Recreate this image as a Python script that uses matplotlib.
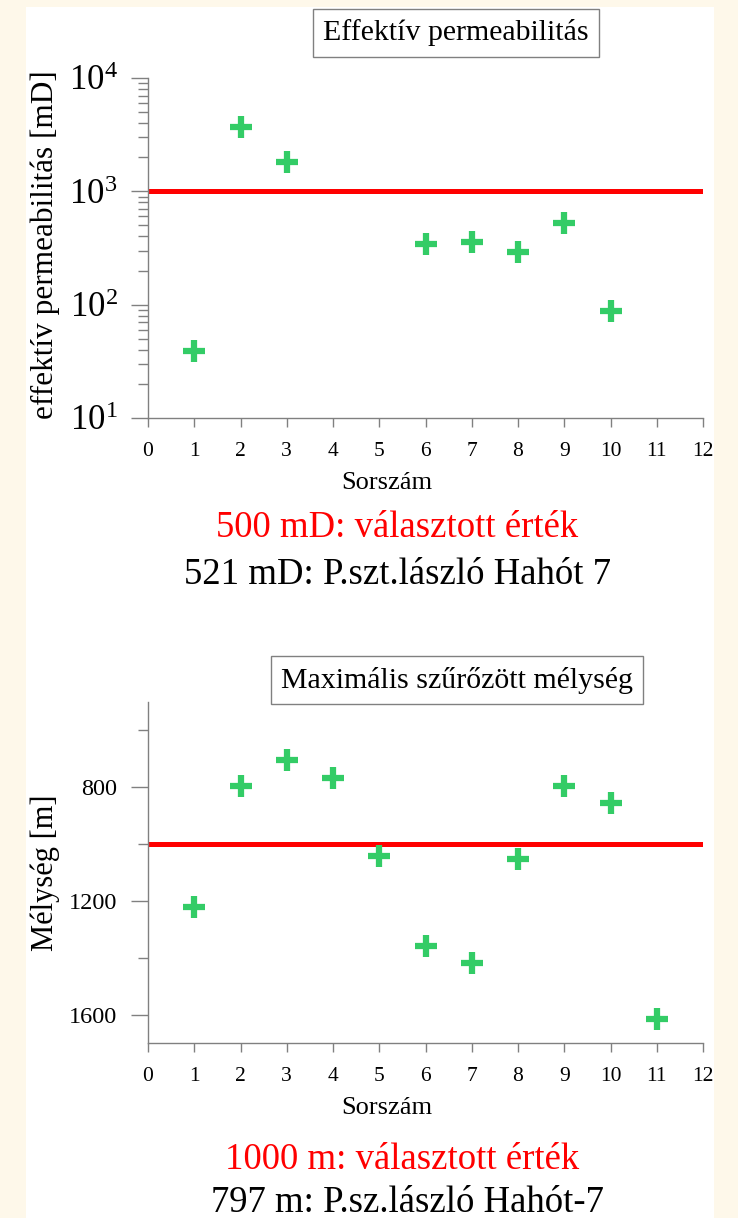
import matplotlib
matplotlib.use('Agg')
import matplotlib.pyplot as plt
from matplotlib.patches import Rectangle
from matplotlib.ticker import LogLocator, FixedLocator, NullFormatter

plt.rcParams['font.family'] = ['Liberation Serif', 'DejaVu Serif']
plt.rcParams['mathtext.fontset'] = 'custom'
plt.rcParams['mathtext.rm'] = 'Liberation Serif'

# data
perm_x = [1, 2, 3, 6, 7, 8, 9, 10]
perm_y = [39, 3724, 1806, 341, 355, 294, 521, 88]
perm_chosen = 1000

depth_x = [1, 2, 3, 4, 5, 6, 7, 8, 9, 10, 11]
depth_y = [1223, 797, 703, 766, 1042, 1358, 1419, 1054, 797, 854, 1614]
depth_chosen = 1000

x_ticks = list(range(0, 13))

GREEN = '#33cc66'
GRAY = '#808080'

fig = plt.figure(figsize=(7.38, 12.18), dpi=100)
fig.patch.set_facecolor('#fef8ea')
W, H = 738.0, 1218.0
fig.patches.append(Rectangle((26 / W, 0), (714 - 26) / W, (1218 - 7) / H,
                             transform=fig.transFigure, facecolor='white',
                             edgecolor='none', zorder=-10))


def style_axes(ax):
    for s in ['top', 'right']:
        ax.spines[s].set_visible(False)
    for s in ['left', 'bottom']:
        ax.spines[s].set_color(GRAY)
        ax.spines[s].set_linewidth(1.0)
    ax.set_facecolor('none')
    ax.set_xlim(0, 12)
    ax.set_xticks(x_ticks)
    ax.tick_params(axis='x', colors=GRAY, labelcolor='black', length=6.5,
                   width=1.0, labelsize=15.5, pad=10.5)
    ax.tick_params(axis='y', which='major', colors=GRAY, labelcolor='black',
                   length=12, width=1.0, pad=10)
    ax.tick_params(axis='y', which='minor', colors=GRAY, length=7, width=1.0)
    ax.set_xlabel('Sorszám', fontsize=19)
    ax.xaxis.set_label_coords((387 - 148) / 555.0, -0.158)


# top: permeability
ax1 = fig.add_axes([148 / W, 1 - 418 / H, 555 / W, 340 / H])
style_axes(ax1)
ax1.set_yscale('log')
ax1.set_ylim(10, 1e4)
ax1.yaxis.set_major_locator(LogLocator(base=10, numticks=10))
ax1.yaxis.set_minor_locator(LogLocator(base=10, subs=range(2, 10), numticks=10))
ax1.yaxis.set_minor_formatter(NullFormatter())
ax1.tick_params(axis='y', which='major', labelsize=25)
ax1.axhline(perm_chosen, color='red', lw=3.6, solid_capstyle='round', zorder=2)
ax1.plot(perm_x, perm_y, linestyle='none', marker='+', ms=16.5, mew=4.5,
         color=GREEN, zorder=3)
ax1.set_ylabel('effektív permeabilitás [mD]', fontsize=22.5)
ax1.yaxis.set_label_coords((60 - 148) / 555.0, (418 - 245) / 340.0)
fig.text(456 / W, 1 - 33 / H, 'Effektív permeabilitás', fontsize=21.5,
         ha='center', va='center',
         bbox=dict(boxstyle='square,pad=0.35', fc='white', ec=GRAY, lw=1.0))
fig.text(397 / W, 1 - 528 / H, '500 mD: választott érték', fontsize=26.5,
         color='red', ha='center', va='center')
fig.text(397 / W, 1 - 575 / H, '521 mD: P.szt.lászló Hahót 7', fontsize=26.5,
         color='black', ha='center', va='center')

# bottom: depth
ax2 = fig.add_axes([148 / W, 1 - 1043 / H, 555 / W, 341 / H])
style_axes(ax2)
ax2.set_ylim(1700, 500)
ax2.yaxis.set_major_locator(FixedLocator([800, 1200, 1600]))
ax2.yaxis.set_minor_locator(FixedLocator([600, 1000, 1400]))
ax2.tick_params(axis='y', which='major', labelsize=17.5)
ax2.axhline(depth_chosen, color='red', lw=3.6, solid_capstyle='round', zorder=2)
ax2.plot(depth_x, depth_y, linestyle='none', marker='+', ms=16.5, mew=4.5,
         color=GREEN, zorder=3)
ax2.set_ylabel('Mélység [m]', fontsize=22)
ax2.yaxis.set_label_coords((60 - 148) / 555.0, (1043 - 873) / 341.0)
fig.text(457 / W, 1 - 680 / H, 'Maximális szűrőzött mélység', fontsize=21.5,
         ha='center', va='center',
         bbox=dict(boxstyle='square,pad=0.35', fc='white', ec=GRAY, lw=1.0))
fig.text(402 / W, 1 - 1160 / H, '1000 m: választott érték', fontsize=26.5,
         color='red', ha='center', va='center')
fig.text(407 / W, 1 - 1203 / H, '797 m: P.sz.lászló Hahót-7', fontsize=26.5,
         color='black', ha='center', va='center')

fig.savefig('out.png', dpi=100, facecolor=fig.get_facecolor())
